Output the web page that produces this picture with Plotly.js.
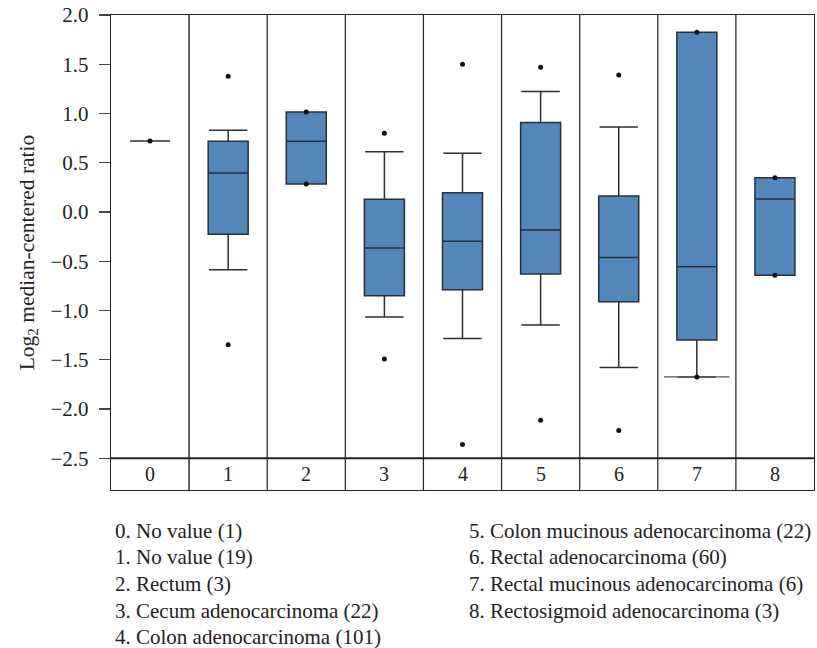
<!DOCTYPE html>
<html>
<head>
<meta charset="utf-8">
<script src="https://cdn.plot.ly/plotly-3.0.1.min.js"></script>
<style>html,body{margin:0;padding:0;background:#fff;}#chart{width:817px;height:648px;}</style>
</head>
<body>
<div id="chart"></div>
<script>
// ---- data ----
const categories = [0, 1, 2, 3, 4, 5, 6, 7, 8];
const tickLabels = ['0', '1', '2', '3', '4', '5', '6', '7', '8'];
const groupNames = [
  '0. No value (1)',
  '1. No value (19)',
  '2. Rectum (3)',
  '3. Cecum adenocarcinoma (22)',
  '4. Colon adenocarcinoma (101)',
  '5. Colon mucinous adenocarcinoma (22)',
  '6. Rectal adenocarcinoma (60)',
  '7. Rectal mucinous adenocarcinoma (6)',
  '8. Rectosigmoid adenocarcinoma (3)'
];
const lowerFence = [0.72, -0.586, 0.285, -1.067, -1.284, -1.148, -1.579, -1.674, -0.643];
const q1         = [0.72, -0.227, 0.285, -0.850, -0.790, -0.630, -0.911, -1.300, -0.643];
const median     = [0.72,  0.396, 0.718, -0.366, -0.298, -0.183, -0.461, -0.555,  0.132];
const q3         = [0.72,  0.718, 1.016,  0.129,  0.196,  0.908,  0.163,  1.826,  0.349];
const upperFence = [0.72,  0.830, 1.016,  0.613,  0.596,  1.223,  0.864,  1.826,  0.349];
// individual points drawn as dots (outliers and extreme values)
const pointCat = [0, 1, 1, 2, 2, 3, 3, 4, 4, 5, 5, 6, 6, 7, 7, 8, 8];
const pointVal = [0.72, 1.379, -1.348, 1.016, 0.285, 0.80, -1.491, 1.50, -2.36,
                  1.47, -2.114, 1.392, -2.219, 1.826, -1.674, 0.349, -0.643];
const yTickVals = [-2.5, -2.0, -1.5, -1.0, -0.5, 0.0, 0.5, 1.0, 1.5, 2.0];
const yTickText = ['\u22122.5', '\u22122.0', '\u22121.5', '\u22121.0', '\u22120.5', '0.0', '0.5', '1.0', '1.5', '2.0'];

// ---- styling ----
const FONT = '"Liberation Serif", "Times New Roman", serif';
const TEXT = '#222222';
const yBottom = -2.822;
const bandMid = (yTickVals[0] + yBottom) / 2;

const traces = [
  {
    type: 'box',
    x: categories,
    q1: q1, median: median, q3: q3,
    lowerfence: lowerFence, upperfence: upperFence,
    width: 0.512,
    whiskerwidth: 0.96,
    fillcolor: '#5387BA',
    line: {color: '#26303a', width: 1.5},
    boxpoints: false,
    hoverinfo: 'skip',
    showlegend: false
  },
  // wider lower whisker cap of group 7
  {
    type: 'scatter', mode: 'lines',
    x: [categories[7] - 0.42, categories[7] + 0.42],
    y: [lowerFence[7], lowerFence[7]],
    line: {color: '#555', width: 1.4},
    hoverinfo: 'skip', showlegend: false
  },
  {
    type: 'scatter', mode: 'markers',
    x: pointCat, y: pointVal,
    marker: {color: '#111', size: 5},
    hoverinfo: 'skip', showlegend: false
  }
];

const shapes = [];
for (let i = 0; i < categories.length - 1; i++) {
  shapes.push({type: 'line', xref: 'x', yref: 'y',
    x0: categories[i] + 0.5, x1: categories[i] + 0.5, y0: yBottom, y1: 2.0,
    line: {color: i === 0 ? '#555' : '#222', width: i === 0 ? 1.8 : 1.2}, layer: 'below'});
}
shapes.push({type: 'line', xref: 'paper', yref: 'y', x0: 0, x1: 1, y0: yTickVals[0], y1: yTickVals[0],
  line: {color: '#222', width: 2}});

const annotations = [];
categories.forEach((c, i) => {
  annotations.push({x: c, y: bandMid, xref: 'x', yref: 'y', text: tickLabels[i],
    showarrow: false, font: {family: FONT, size: 20, color: TEXT}});
});
groupNames.forEach((name, i) => {
  const col = i < 5 ? 0 : 1;
  const row = i < 5 ? i : i - 5;
  annotations.push({
    xref: 'paper', yref: 'paper',
    x: col === 0 ? 0.0024 : 0.506,
    y: -0.0857 - row * 0.056,
    xanchor: 'left', yanchor: 'middle',
    text: name, showarrow: false,
    font: {family: FONT, size: 21, color: TEXT}
  });
});

const layout = {
  width: 817, height: 648,
  margin: {l: 111, r: 3, t: 15, b: 158, pad: 0},
  paper_bgcolor: '#fff', plot_bgcolor: '#fff',
  font: {family: FONT, color: TEXT, size: 20},
  xaxis: {
    range: [-0.5, 8.5], showticklabels: false, ticks: '',
    showgrid: false, zeroline: false,
    showline: true, mirror: true, linecolor: '#222', linewidth: 1.2
  },
  yaxis: {
    range: [yBottom, 2.0],
    tickvals: yTickVals, ticktext: yTickText,
    ticks: 'outside', ticklen: 11, tickwidth: 1.2, tickcolor: '#444',
    ticklabelstandoff: 6,
    tickfont: {family: FONT, size: 21, color: TEXT},
    showgrid: false, zeroline: false,
    showline: true, mirror: true, linecolor: '#222', linewidth: 1.2,
    title: {text: 'Log<sub>2</sub> median-centered ratio', standoff: 10,
            font: {family: FONT, size: 21.5, color: TEXT}}
  },
  shapes: shapes,
  annotations: annotations,
  showlegend: false
};

Plotly.newPlot('chart', traces, layout, {staticPlot: true, displayModeBar: false});
</script>
</body>
</html>
